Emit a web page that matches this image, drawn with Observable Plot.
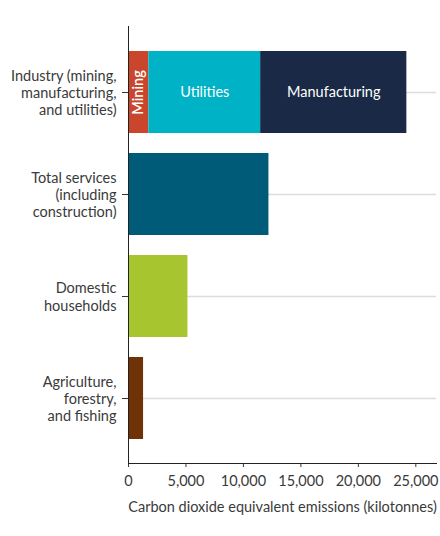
<!DOCTYPE html>
<html>
<head>
<meta charset="utf-8">
<script src="https://cdn.jsdelivr.net/npm/d3@7"></script>
<script src="https://cdn.jsdelivr.net/npm/@observablehq/plot@0.6"></script>
<style>
  html, body { margin: 0; padding: 0; background: #fff; }
  #chart svg { font-family: Lato, "Open Sans", sans-serif; }
</style>
</head>
<body>
<div id="chart"></div>
<script>
const categories = [
  "Industry (mining,\nmanufacturing,\nand utilities)",
  "Total services\n(including\nconstruction)",
  "Domestic\nhouseholds",
  "Agriculture,\nforestry,\nand fishing"
];
const industryParts = ["Mining", "Utilities", "Manufacturing"];
const industryValues = [1770, 9730, 12720];
const industryColors = ["#c9462c", "#00b2c5", "#1a2a46"];
const otherCategories = categories.slice(1);
const otherValues = [12220, 5170, 1310];
const otherColors = ["#005b78", "#a7c52f", "#6f3106"];
const xTicks = [0, 5000, 10000, 15000, 20000, 25000];
const xLabel = "Carbon dioxide equivalent emissions (kilotonnes)";

const industryRows = industryParts.map((p, i) => ({cat: categories[0], part: p, value: industryValues[i]}));
const otherRows = otherCategories.map((c, i) => ({cat: c, part: c, value: otherValues[i]}));
const rows = industryRows.concat(otherRows);
const fmt = d3.format(",");

const plot = Plot.plot({
  width: 440,
  height: 536,
  marginTop: 26,
  marginLeft: 128,
  marginRight: 4,
  marginBottom: 73,
  style: {fontSize: "14.5px", fontFamily: "Lato, sans-serif", color: "#3a3a3a"},
  x: {domain: [0, 26800], ticks: xTicks, tickFormat: fmt, label: null},
  y: {domain: categories, paddingInner: 0.2, paddingOuter: 0.223, label: null},
  color: {
    domain: industryParts.concat(otherCategories),
    range: industryColors.concat(otherColors)
  },
  marks: [
    Plot.gridY({stroke: "#dcdcdc", strokeOpacity: 1, strokeWidth: 1.5}),
    Plot.barX(rows, {x: "value", y: "cat", fill: "part", order: null}),
    Plot.text(industryRows, Plot.stackX({
      x: "value", y: "cat", order: null,
      text: d => d.part === "Mining" ? null : d.part,
      fill: "white", fontSize: 14.5
    })),
    Plot.text(industryRows, Plot.stackX({
      x: "value", y: "cat", order: null,
      text: d => d.part === "Mining" ? d.part : null,
      rotate: -90, fill: "white", fontSize: 14.5, fontWeight: 600
    })),
    Plot.axisY({tickSize: 6, tickPadding: 6, lineHeight: 1.2, fontSize: 14.5, label: null, stroke: "#333"}),
    Plot.axisX({ticks: xTicks, tickFormat: fmt, tickSize: 4, tickPadding: 8, fontSize: 14.5,
      label: xLabel, labelAnchor: "center", labelArrow: "none", labelOffset: 48}),
    Plot.frame({anchor: "left", stroke: "#222"}),
    Plot.frame({anchor: "bottom", stroke: "#222"})
  ]
});
document.getElementById("chart").appendChild(plot);
</script>
</body>
</html>
